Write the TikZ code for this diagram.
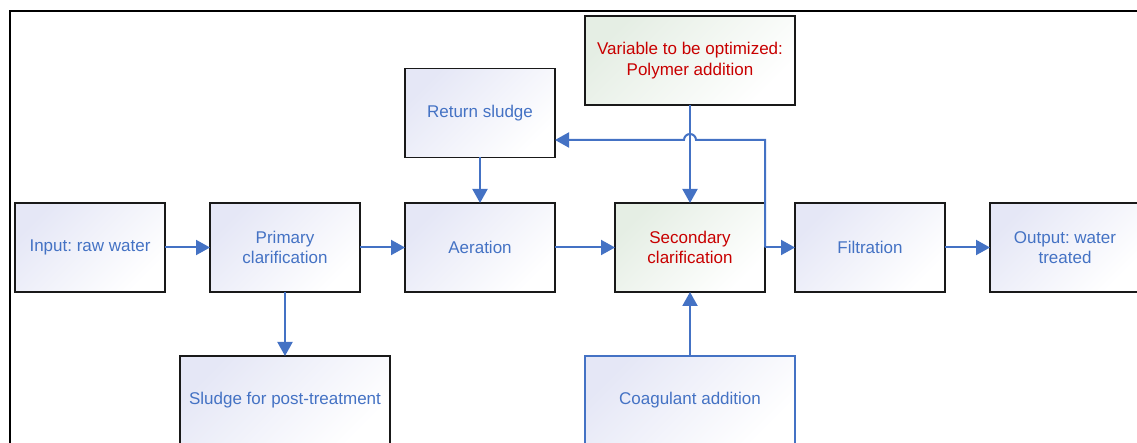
\documentclass[tikz,border=0pt]{standalone}
\usepackage{fontspec}
\setmainfont{Liberation Sans}
\usetikzlibrary{arrows.meta}
\definecolor{flowblue}{RGB}{68,114,196}
\definecolor{optred}{RGB}{200,0,0}
\definecolor{boxtint}{RGB}{229,231,246}
\definecolor{greentint}{RGB}{229,238,228}
\frenchspacing
\begin{document}
\begin{tikzpicture}[x=1pt,y=1pt,font=\fontsize{17}{20.5}\selectfont]
        \tikzstyle{box}=[rectangle,draw=black!90,line width=1.4pt,top color=boxtint,bottom color=white,shading angle=45,minimum width=150pt,minimum height=89pt,inner sep=0pt,outer sep=0pt,align=center,text=flowblue]
        \tikzstyle{widebox}=[box,minimum width=210pt]
        \tikzstyle{keybox}=[top color=greentint,bottom color=white,shading angle=45,text=optred]
        \tikzstyle{flow}=[color=flowblue,line width=2pt,-{Triangle[length=14pt,width=15pt,fill=flowblue]}]
        \useasboundingbox (0,0) rectangle (1137,443);
        \clip (0,0) rectangle (1137,443);
        \draw [line width=2pt] (10,-20) rectangle (1160,432);
       \begin{scope}
        % main line
        \node [box] (inp) at (90,195.5) {Input: raw water};
        \node [box] (pri) at (285,195.5) {Primary\\clarification};
        \node [box] (aer) at (480,195.5) {Aeration};
        \node [box,keybox] (sec) at (690,195.5) {Secondary\\clarification};
        \node [box] (filt) at (870,195.5) {Filtration};
        \node [box] (out) at (1065,195.5) {Output: water\\treated};
        % side boxes
        \node [box] (ret) at (480,330) {Return sludge};
        \node [widebox,keybox] (var) at (690,382.5) {Variable to be optimized:\\Polymer addition};
        \node [widebox] (slu) at (285,42.5) {Sludge for post-treatment};
        \node [widebox,draw=flowblue] (coa) at (690,42.5) {Coagulant addition};

        \coordinate (turn) at (765,303);
        \coordinate (jump) at (var.south |- turn);

        \path[flow] (inp) edge (pri);
        \path[flow] (pri) edge (aer);
        \path[flow] (aer) edge (sec);
        \path[flow] (sec) edge (filt);
        \path[flow] (filt) edge (out);
        \path[flow] (ret) edge (aer);
        \path[flow] (var) edge (sec);
        \path[flow] (coa) edge (sec);
        \path[flow] (pri) edge (slu);
        \draw[flow] (sec.east) -- (turn) -- ([xshift=6pt]jump) arc [start angle=0,end angle=180,radius=6pt] -- (ret.east |- turn);
        \end{scope}
      \end{tikzpicture}
\end{document}
